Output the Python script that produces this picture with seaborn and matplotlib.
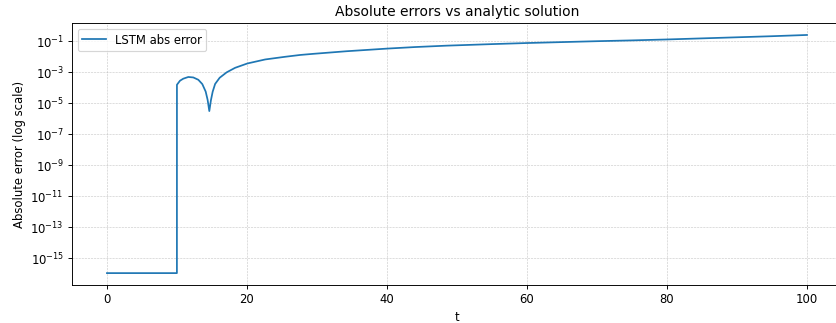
import matplotlib
matplotlib.use("Agg")
import matplotlib.pyplot as plt
import seaborn as sns
import pandas as pd

# Data
t_values = [0, 9.99, 9.995, 10.43, 10.9, 11.62, 12.33, 13.05, 13.62, 14.1, 14.38,
            14.62, 14.85, 15.1, 15.45, 16.1, 17.1, 18.3, 20.05, 22.6, 25.4,
            27.6, 29.4, 34.2, 40.0, 44.0, 48.5, 55.0, 60.0, 65.0, 70.0, 75.0,
            80.0, 85.0, 90.0, 95.0, 100.0]
abs_error = [1.12e-16, 1.12e-16, 1.58e-4, 2.88e-4, 3.89e-4, 5.01e-4, 4.68e-4,
             3.31e-4, 1.74e-4, 5.75e-5, 1.66e-5, 3.16e-6, 1.58e-5, 5.62e-5,
             1.78e-4, 4.47e-4, 1.0e-3, 1.95e-3, 3.72e-3, 6.76e-3, 0.0100,
             0.0132, 0.0155, 0.0229, 0.0339, 0.0427, 0.0525, 0.0661, 0.0776,
             0.0891, 0.102, 0.115, 0.132, 0.155, 0.182, 0.214, 0.257]
series_label = "LSTM abs error"

df = pd.DataFrame({"t": t_values, "err": abs_error})

DPI = 83.6
fig = plt.figure(figsize=(836 / DPI, 323 / DPI), dpi=DPI)
ax = fig.add_axes([0.0861, 0.1176, 0.921, 0.811])

sns.lineplot(data=df, x="t", y="err", ax=ax, label=series_label,
             estimator=None, sort=False, color="#1f77b4", linewidth=1.5)
ax.set_yscale("log")
ax.set_xlim(-5, 105)
ax.set_title("Absolute errors vs analytic solution")
ax.set_xlabel("t")
ax.set_ylabel("Absolute error (log scale)")
ax.grid(True, which="major", linestyle="--", linewidth=0.5, alpha=0.7)
ax.legend(loc="upper left")

fig.savefig("out.png", dpi=DPI)
